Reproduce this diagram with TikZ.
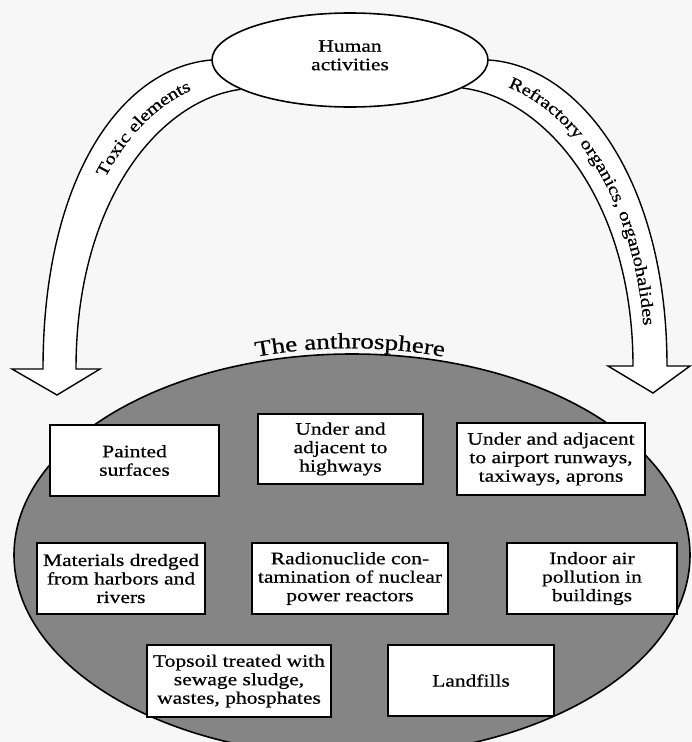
\documentclass[tikz,border=0pt]{standalone}
\usepackage{fontspec}
\setmainfont{Liberation Serif}[FakeStretch=1.23,FakeBold=0.6]
\usetikzlibrary{shapes.geometric,decorations.text}

\newcommand\boxfont{\fontsize{17.5}{18.5}\selectfont}
\newcommand\bandfont{\fontsize{17}{18}\selectfont}
\pgfdeclarelayer{bg}
\pgfsetlayers{bg,main}

\begin{document}
\begin{tikzpicture}[x=1pt,y=-1pt,
  box/.style={rectangle,draw,line width=1.8pt,fill=white,inner sep=0pt,font=\boxfont,align=center},
  blob/.style={ellipse,draw,line width=1.6pt,inner sep=0pt},
  band/.style={draw,line width=1.4pt,fill=white,line join=miter},
  lbl/.style={decorate,decoration={text along path,raise=-5pt,#1}}]
  \useasboundingbox (0,0) rectangle (692,742);
  \begin{pgfonlayer}{bg}
    \fill[black!3] (0,0) rectangle (692,742);
  \end{pgfonlayer}
  \clip (0,0) rectangle (692,742);
  % the anthrosphere
  \node[blob,fill=black!48,minimum width=676pt,minimum height=402pt] (sphere) at (352,555) {};
  \path[lbl={text={|\fontsize{22}{24}\selectfont|The anthrosphere},text align=center,raise=0pt}]
    (250,358) .. controls (315,345) and (385,345) .. (450,358);
  \node[blob,fill=white,minimum width=276pt,minimum height=94pt,font=\boxfont,align=center] (human) at (350,60) {Human\\activities\\[-9pt]};
  % flow bands
  \coordinate (ltip) at (57,395);
  \coordinate (rtip) at (653,393);
  \begin{pgfonlayer}{bg}
    \draw[band] (human.west) .. controls (120,68) and (43,180) .. (43,369) -- (12,369) -- (ltip)
      -- (100,369) -- (76,369) .. controls (76,200) and (160,100) .. (human.195);
    \draw[band] (human.east) .. controls (580,66) and (667,180) .. (667,366) -- (690,366) -- (rtip)
      -- (608,366) -- (633,366) .. controls (633,200) and (545,98) .. (human.-14);
  \end{pgfonlayer}
  \path[lbl={text={|\bandfont|Toxic elements},text align={left indent=200pt}}]
    (59.5,369) .. controls (59.5,190) and (140,84) .. (227,76);
  \path[lbl={text={|\bandfont|Refractory organics, organohalides},text align={left indent=36pt}}]
    (475,74) .. controls (562.5,82) and (650,190) .. (650,366);
  % sources
  \node[box,minimum width=169pt,minimum height=71pt] (paint) at (134.5,460.5) {Painted\\surfaces};
  \node[box,minimum width=165pt,minimum height=70pt] (hwy) at (340.5,449) {Under and\\adjacent to\\highways};
  \node[box,minimum width=188pt,minimum height=72pt] (airp) at (551,459) {Under and adjacent\\to airport runways,\\taxiways, aprons};
  \node[box,minimum width=168pt,minimum height=71pt] (dredge) at (121,578.5) {Materials dredged\\from harbors and\\rivers};
  \node[box,minimum width=196pt,minimum height=71pt] (radio) at (350,578.5) {Radionuclide con-\\tamination of nuclear\\power reactors};
  \node[box,minimum width=170pt,minimum height=71pt] (indoor) at (592,578.5) {Indoor air\\pollution in\\buildings};
  \node[box,minimum width=184pt,minimum height=72pt] (topsoil) at (239,681) {Topsoil treated with\\sewage sludge,\\wastes, phosphates};
  \node[box,minimum width=166pt,minimum height=71pt] (landf) at (471,680.5) {Landfills};
\end{tikzpicture}
\end{document}
